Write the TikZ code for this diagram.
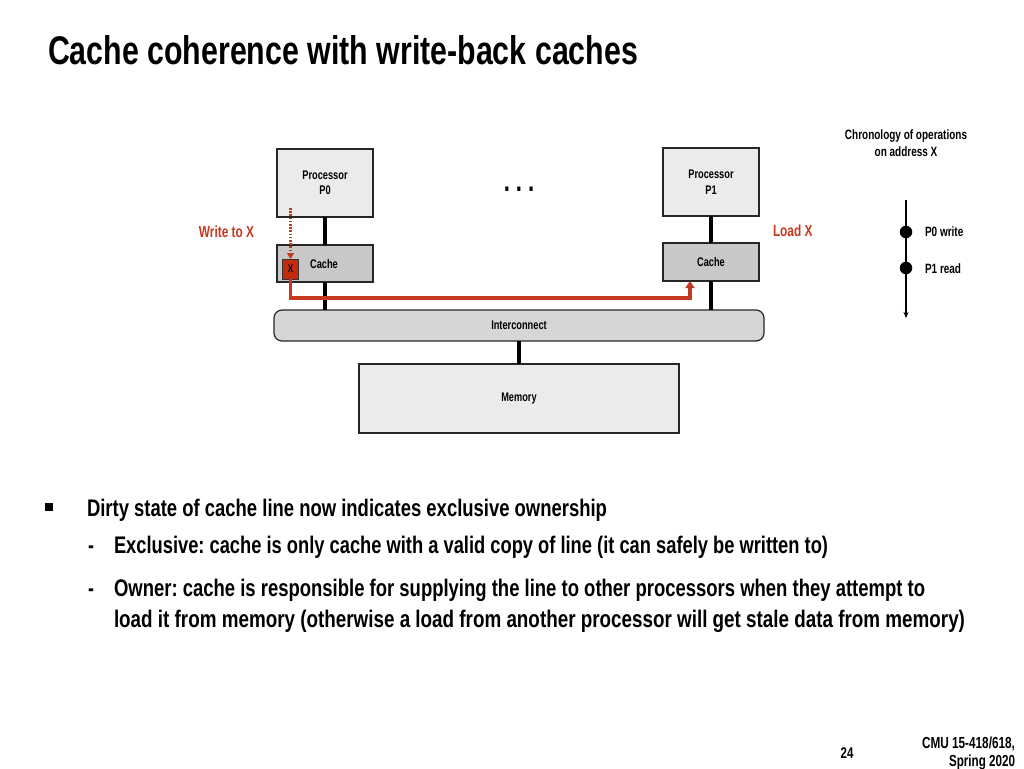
\documentclass[tikz,border=0pt]{standalone}
\usepackage{fontspec}
\setmainfont{Liberation Sans}[FakeStretch=0.74]
\usetikzlibrary{arrows.meta,calc}
\definecolor{boxlight}{HTML}{EBEBEB}
\definecolor{boxcache}{HTML}{C8C8C8}
\definecolor{boxic}{HTML}{D6D6D6}
\definecolor{cmured}{HTML}{C43A1E}
\definecolor{xred}{HTML}{C42A10}
\newcommand{\fitto}[2]{\resizebox{#1}{\height}{#2}}
\newcommand{\fs}[1]{\fontsize{#1}{#1}\selectfont}
\frenchspacing
\begin{document}
\begin{tikzpicture}[x=1pt,y=-1pt,
  every node/.style={font=\bfseries, inner sep=0pt, outer sep=0pt},
  blk/.style={draw=black!85, line width=1.2pt, fill=boxlight, align=center, font=\bfseries\fs{12.5}},
  cacheblk/.style={blk, fill=boxcache},
  conn/.style={line width=3.4pt, black},
  redlbl/.style={text=cmured, font=\bfseries\fs{16}},
  body/.style={anchor=base west, font=\bfseries\fs{24}},
  small/.style={font=\bfseries\fs{13.5}}
]
\useasboundingbox[fill=white] (0,0) rectangle (1024,768);

% title
\node[anchor=base west, font=\bfseries\fs{40}] (title) at (48,64) {\fitto{590pt}{Cache coherence with write-back caches}};

% boxes
\node[blk, minimum width=96, minimum height=68] (p0) at (325,183) {Processor\\[3pt]P0};
\node[blk, minimum width=96, minimum height=68] (p1) at (711,182) {Processor\\[3pt]P1};
\node[anchor=base, font=\bfseries\fs{30}] (dots) at (519,191) {.\hspace{6pt}.\hspace{6pt}.};
\node[cacheblk, minimum width=96, minimum height=37] (c0) at (325,263.5) {};
\node[font=\bfseries\fs{12.5}] (c0lbl) at (324,264) {Cache};
\node[cacheblk, minimum width=96, minimum height=38] (c1) at (711,262) {Cache};
\node[blk, fill=boxic, rounded corners=8, minimum width=490, minimum height=31] (ic) at (519,325.5) {Interconnect};
\node[blk, minimum width=320, minimum height=69] (mem) at (519,398.5) {Memory};
\node[draw=black!80, line width=1pt, fill=xred, minimum width=16.5, minimum height=20, text=black, font=\bfseries\fs{11}] (xbox) at (290.5,269) {X};

% connectors
\draw[conn] (p0) -- (c0);
\draw[conn] (p1) -- (c1);
\draw[conn] (c0.south) -- (c0.south |- ic.north);
\draw[conn] (c1.south) -- (c1.south |- ic.north);
\draw[conn] (ic.south) -- (mem.north);

% red arrows
\coordinate (wstart) at (290.5,208);
\draw[cmured, line width=2.2pt, dash pattern=on 1.6pt off 1.6pt, -{Triangle[length=6pt,width=7pt]}] (wstart) -- (xbox.north);
\draw[cmured, line width=3.2pt, -{Triangle[length=7pt,width=9pt]}] (xbox.south) |- ($(c1.south)+(-21,17)$) -- ($(c1.south)+(-21,0)$);

\node[redlbl, anchor=east] (wlbl) at (254,232) {Write to X};
\node[redlbl, anchor=west] (llbl) at (773,231) {Load X};

% chronology
\node[small, align=center] (chron) at (906,143) {Chronology of operations\\[3pt]on address X};
\coordinate (t0) at (906,200);
\coordinate (t1) at (906,318);
\draw[line width=1.6pt, -{Stealth[length=6pt,width=5pt]}] (t0) -- (t1);
\node[circle, fill=black, minimum size=12.5] (e0) at (906,232) {};
\node[circle, fill=black, minimum size=12.5] (e1) at (906,268) {};
\node[small, anchor=west] (e0l) at (925,232) {P0 write};
\node[small, anchor=west] (e1l) at (925,269) {P1 read};

% bullets
\node[fill=black, minimum size=8] (sq) at (49,507) {};
\node[body] (b1) at (87,516) {\fitto{520pt}{Dirty state of cache line now indicates exclusive ownership}};
\node[body] (d1) at (88,553) {-};
\node[body] (b2) at (114,553) {\fitto{714pt}{Exclusive: cache is only cache with a valid copy of line (it can safely be written to)}};
\node[body] (d2) at (88,596) {-};
\node[body] (b3) at (114,596) {\fitto{811pt}{Owner: cache is responsible for supplying the line to other processors when they attempt to}};
\node[body] (b4) at (114,627) {\fitto{851pt}{load it from memory (otherwise a load from another processor will get stale data from memory)}};

% footer
\node[font=\bfseries\fs{15.5}] (page) at (847,753) {24};
\node[anchor=base east, font=\bfseries\fs{16}] (cmu1) at (1015,748) {\fitto{93pt}{CMU 15-418/618,}};
\node[anchor=base east, font=\bfseries\fs{16}] (cmu2) at (1015,766) {\fitto{66pt}{Spring 2020}};
\end{tikzpicture}
\end{document}
